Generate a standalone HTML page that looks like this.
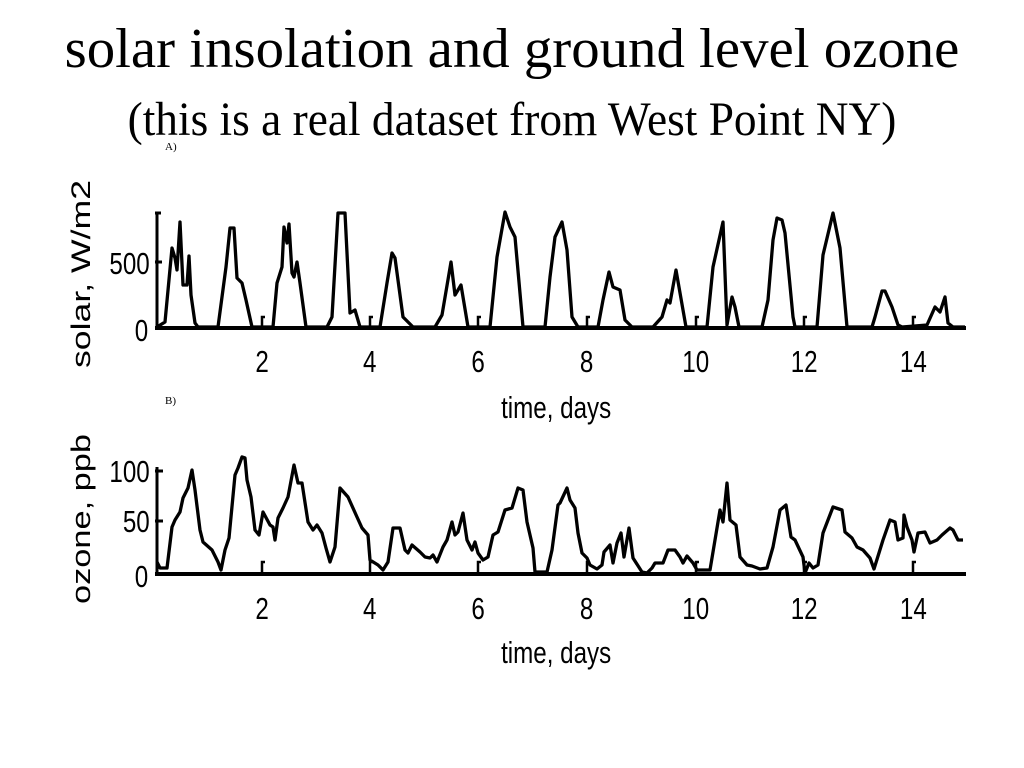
<!DOCTYPE html>
<html><head><meta charset="utf-8"><style>html,body{margin:0;padding:0;background:#fff;}svg{display:block}</style></head>
<body>
<svg width="1024" height="768" xmlns="http://www.w3.org/2000/svg">
<rect width="1024" height="768" fill="#fff"/>
<g transform="translate(512,67) scale(1.015,1)"><text x="0" y="0" text-anchor="middle" font-family="Liberation Serif, serif" font-size="56">solar insolation and ground level ozone</text></g>
<g transform="translate(512,135) scale(0.945,1)"><text x="0" y="0" text-anchor="middle" font-family="Liberation Serif, serif" font-size="48">(this is a real dataset from West Point NY)</text></g>
<text x="165" y="150" font-family="Liberation Serif, serif" font-size="11">A)</text>
<text x="165" y="404" font-family="Liberation Serif, serif" font-size="11">B)</text>

<g font-family="Liberation Sans, sans-serif" font-size="27" fill="#000">
<text transform="translate(90,368) rotate(-90)" textLength="188" lengthAdjust="spacingAndGlyphs">solar, W/m2</text>
<text transform="translate(90,604) rotate(-90)" textLength="170" lengthAdjust="spacingAndGlyphs">ozone, ppb</text>
</g>

<g font-family="Liberation Sans, sans-serif" font-size="31" fill="#000" text-anchor="middle">
<g transform="scale(0.78,1)">
<g text-anchor="end">
<text x="192" y="274">500</text><text x="190" y="341">0</text>
<text x="192" y="482">100</text><text x="192" y="532">50</text><text x="190" y="587">0</text>
</g>
<text x="336" y="372">2</text><text x="474" y="372">4</text><text x="613" y="372">6</text><text x="752" y="372">8</text><text x="892" y="372">10</text><text x="1031" y="372">12</text><text x="1171" y="372">14</text>
<text x="336" y="619">2</text><text x="474" y="619">4</text><text x="613" y="619">6</text><text x="752" y="619">8</text><text x="892" y="619">10</text><text x="1031" y="619">12</text><text x="1171" y="619">14</text>
<text x="713" y="418">time, days</text>
<text x="713" y="663">time, days</text>
</g></g>

<g stroke="#000" fill="none">
<path d="M157 212V328M155 213H161M155 262H162" stroke-width="3"/>
<path d="M155 328H966" stroke-width="4"/>
<path d="M262 328V317h3M370 328V317h3M478 328V317h3M587 328V317h3M696 328V317h3M804 328V317h3M913 328V317h3" stroke-width="2.5"/>
<polyline stroke-width="3.3" stroke-linejoin="round" points="157,327 165,322 172,248 175,258 177,270 180,222 183,285 187,285 189,256 191,295 195,323 198,327 218,327 226,267 230,228 234,228 237,278 242,283 246,300 252,327 273,327 277,283 282,267 284,227 287,243 289,224 292,273 294,277 297,262 300,283 306,327 327,327 332,317 338,213 345,213 350,313 355,310 360,327 380,327 387,283 392,253 395,258 403,317 413,327 435,327 442,315 451,262 455,295 461,285 468,327 490,327 497,257 505,212 510,227 515,237 523,327 545,327 550,277 555,237 562,222 567,250 572,317 578,327 598,327 603,300 609,272 613,287 620,290 625,320 632,327 653,327 662,317 667,300 670,303 676,270 683,310 686,327 707,327 713,267 723,222 727,325 732,297 735,307 739,327 762,327 768,300 773,240 777,218 782,220 785,233 793,317 795,327 817,327 823,255 833,213 840,248 847,327 872,327 875,317 882,291 885,291 892,307 898,325 902,327 927,325 935,307 940,312 945,297 948,323 953,327 965,327"/>

<path d="M157 467V574M155 471H163M155 521H163" stroke-width="3"/>
<path d="M155 574H966" stroke-width="4"/>
<path d="M262 574V562h3M370 574V562h3M478 574V562h3M587 574V562h3M696 574V562h3M804 574V562h3M913 574V562h3" stroke-width="2.5"/>
<polyline stroke-width="3.3" stroke-linejoin="round" points="157,562 160,568 167,568 172,527 175,520 180,512 183,498 188,488 192,470 195,490 200,530 203,542 212,550 218,562 221,570 225,550 229,538 235,475 238,468 242,457 245,458 247,480 251,497 255,530 259,535 263,512 270,525 273,527 275,540 278,518 283,508 288,497 294,465 298,483 302,483 308,522 313,530 317,525 322,533 326,548 330,562 335,547 340,488 348,497 357,517 362,528 368,535 370,560 378,565 383,570 388,562 393,528 400,528 405,550 408,553 412,545 420,552 425,557 430,558 433,555 437,562 443,547 447,540 452,522 455,535 458,532 463,513 467,540 472,550 475,542 478,553 483,560 488,557 493,535 498,532 505,510 512,508 518,488 523,490 527,522 533,548 535,572 547,572 552,550 558,505 560,503 567,488 570,500 575,508 578,533 582,553 587,558 590,565 597,569 602,565 604,552 610,545 613,563 617,543 621,533 624,557 629,528 633,558 642,572 647,573 652,568 655,563 663,563 668,550 675,550 680,557 683,563 687,556 693,563 697,570 710,570 715,540 720,510 723,522 727,483 730,520 736,525 740,557 747,565 752,566 760,569 767,568 773,547 780,510 786,505 791,537 795,540 803,557 805,573 809,563 813,568 818,565 823,533 833,507 842,510 845,532 852,538 857,547 863,550 870,558 874,569 883,540 890,520 895,522 898,540 903,538 904,515 907,527 912,540 914,552 918,533 925,532 930,543 937,540 942,535 950,528 953,530 958,540 963,540"/>
</g>
</svg>
</body></html>
